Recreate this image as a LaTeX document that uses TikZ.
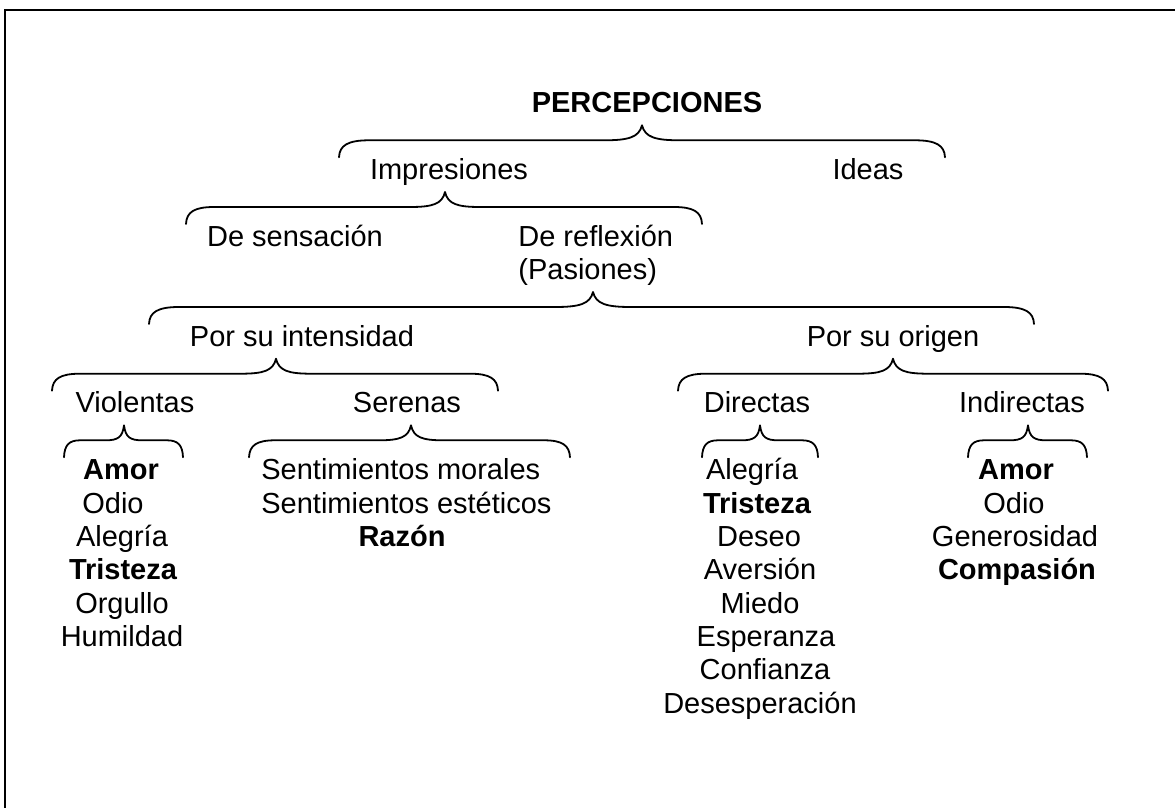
\documentclass[tikz,border=0pt]{standalone}
\usepackage{fontspec}
\setmainfont{Liberation Sans}
\begin{document}
\begin{tikzpicture}[x=0.5pt,y=-0.5pt,
  lbl/.style={inner sep=0pt,anchor=base,font=\fontsize{14.5}{16.65}\selectfont},
  lblw/.style={lbl,anchor=base west},
  bold/.style={lbl,font=\fontsize{14.5}{16.65}\selectfont\bfseries},
  bracepath/.style={line width=0.9pt,line join=round,line cap=round},
  frame/.style={line width=1.3pt}]
\useasboundingbox (0,0) rectangle (1175,808);
% frame (only top and left edges visible)
\coordinate (fTR) at (1175,10);
\coordinate (fTL) at (5,10);
\coordinate (fBL) at (5,808);
\draw[frame] (fTR) -- (fTL) -- (fBL);

% brace macro: #1 left x, #2 right x, #3 tip x, #4 reference line y,
% #5 span of end curves, #6 span of tip curves
\newcommand{\wbrace}[6]{%
  \draw[bracepath] (#1,#4+11) .. controls (#1+0.5,#4-1) and (#1+#5*0.3,#4-6) .. (#1+#5,#4-6)
    -- (#3-#6,#4-6) .. controls (#3-#6*0.35,#4-6) and (#3-#6*0.08,#4-9) .. (#3,#4-21)
    .. controls (#3+#6*0.08,#4-9) and (#3+#6*0.35,#4-6) .. (#3+#6,#4-6)
    -- (#2-#5,#4-6) .. controls (#2-#5*0.3,#4-6) and (#2-0.5,#4-1) .. (#2,#4+11);}

% level 0
\node[bold] (perc) at (647,113) {PERCEPCIONES};
\wbrace{339}{945}{642}{146.3}{30}{38}
\node[lbl] (impr) at (449,179.7) {Impresiones};
\node[lbl] (ideas) at (868,179.7) {Ideas};
\wbrace{186}{702}{445}{213}{28}{35}
\node[lbl] (sens) at (295,246.3) {De sensación};
\node[lblw] (refl) at (518,246.3) {De reflexión};
\node[lblw] (pas) at (518,279.7) {(Pasiones)};
\wbrace{149}{1034}{593}{313}{30}{38}
\node[lbl] (inten) at (302,346.3) {Por su intensidad};
\node[lbl] (orig) at (893,346.3) {Por su origen};
\wbrace{52}{498}{276}{379.7}{28}{35}
\wbrace{678}{1108}{893}{379.7}{28}{35}
\node[lbl] (viol) at (135,413) {Violentas};
\node[lbl] (seren) at (407,413) {Serenas};
\node[lbl] (dir) at (757,413) {Directas};
\node[lbl] (indir) at (1022,413) {Indirectas};
\wbrace{64}{183}{124}{446.3}{16}{18}
\wbrace{249}{570}{411}{446.3}{26}{32}
\wbrace{702}{818}{760}{446.3}{16}{18}
\wbrace{968}{1087}{1028}{446.3}{16}{18}

% Violentas list
\node[bold] (v1) at (121,479.7) {Amor};
\node[lbl]  (v2) at (113,513) {Odio};
\node[lbl]  (v3) at (122,546.3) {Alegría};
\node[bold] (v4) at (123,579.7) {Tristeza};
\node[lbl]  (v5) at (122,613) {Orgullo};
\node[lbl]  (v6) at (122,646.3) {Humildad};

% Serenas list
\node[lblw] (s1) at (261,479.7) {Sentimientos morales};
\node[lblw] (s2) at (261,513) {Sentimientos estéticos};
\node[bold] (s3) at (402,546.3) {Razón};

% Directas list
\node[lbl]  (d1) at (752,479.7) {Alegría};
\node[bold] (d2) at (757,513) {Tristeza};
\node[lbl]  (d3) at (759,546.3) {Deseo};
\node[lbl]  (d4) at (760,579.7) {Aversión};
\node[lbl]  (d5) at (760,613) {Miedo};
\node[lbl]  (d6) at (766,646.3) {Esperanza};
\node[lbl]  (d7) at (765,679.7) {Confianza};
\node[lbl]  (d8) at (760,713) {Desesperación};

% Indirectas list
\node[bold] (i1) at (1016,479.7) {Amor};
\node[lbl]  (i2) at (1014,513) {Odio};
\node[lbl]  (i3) at (1015,546.3) {Generosidad};
\node[bold] (i4) at (1017,579.7) {Compasión};
\end{tikzpicture}
\end{document}
